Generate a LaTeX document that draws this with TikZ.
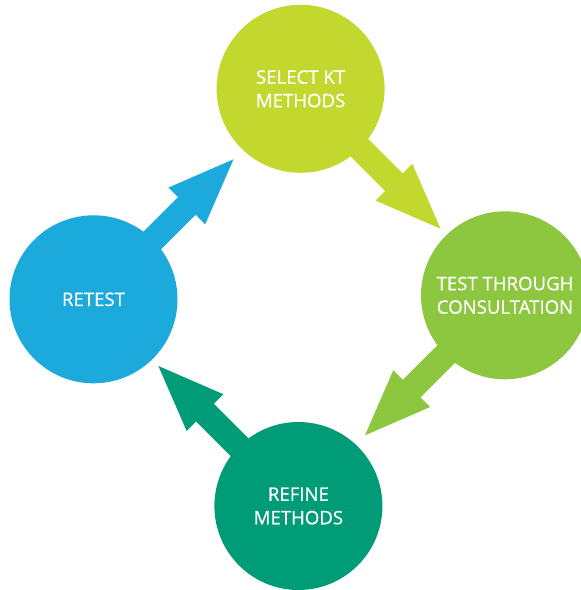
\documentclass[tikz,border=0pt]{standalone}
\usepackage{fontspec}
\setmainfont[FakeBold=0.6,BoldFont={Open Sans}]{Open Sans}
\usetikzlibrary{backgrounds}
\definecolor{cLime}{HTML}{C2D82F}
\definecolor{cGreen}{HTML}{8DC63F}
\definecolor{cTeal}{HTML}{009B77}
\definecolor{cBlue}{HTML}{1CAADC}
\tikzset{
  stage/.style={circle, minimum size=168pt, inner sep=0pt, text=white, align=center,
    font=\fontsize{18.6}{23.5}\selectfont},
  blockarrow/.pic={\fill (0,-12.5) -- (132,-12.5) -- (132,-26) -- (198,0) -- (132,26) -- (132,12.5) -- (0,12.5) -- cycle;}
}
\begin{document}
\begin{tikzpicture}[x=1pt,y=1pt]
\useasboundingbox (0,0) rectangle (581,-590);
\node[stage, fill=cLime]  (sel) at (300.6,-88.8) {SELECT KT\\METHODS};
\node[stage, fill=cGreen] (tst) at (505,-295.3) {TEST THROUGH\\CONSULTATION};
\node[stage, fill=cTeal]  (ref) at (298.4,-506) {REFINE\\METHODS};
\node[stage, fill=cBlue]  (ret) at (93.5,-299.3) {RETEST};
\begin{scope}[on background layer]
\pic[color=cLime, rotate=-45] at (sel.center) {blockarrow};
\pic[color=cGreen, rotate=-135] at (tst.center) {blockarrow};
\pic[color=cTeal, rotate=135] at (ref.center) {blockarrow};
\pic[color=cBlue, rotate=45] at (ret.center) {blockarrow};
\end{scope}
\end{tikzpicture}
\end{document}
